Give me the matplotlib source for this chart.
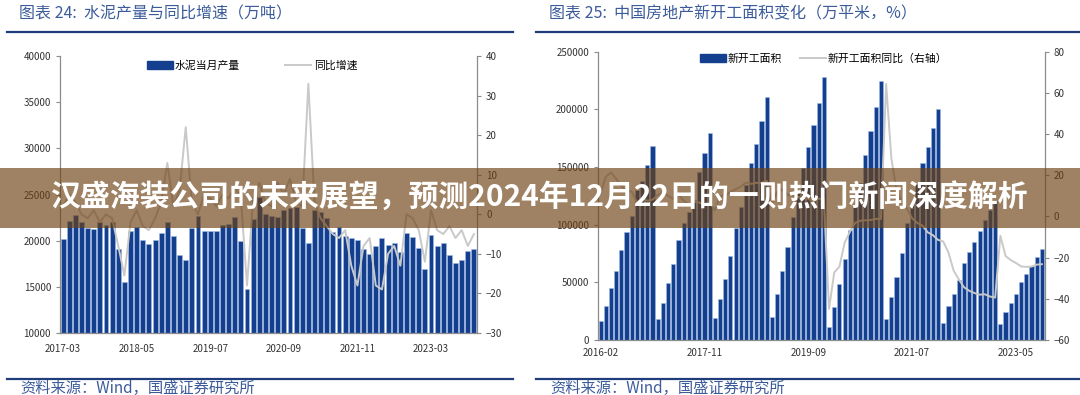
import matplotlib
matplotlib.use("Agg")
import matplotlib.pyplot as plt
from matplotlib.patches import Rectangle, Patch
from matplotlib.lines import Line2D
import numpy as np

plt.rcParams['font.family'] = ['Noto Sans CJK SC', 'DejaVu Sans']

# ---- left chart: cement output (Mar 2017 - Oct 2023, no Jan/Feb) ----
cement_ticks = ['2017-03', '2018-05', '2019-07', '2020-09', '2021-11', '2023-03']
cement_output = [20170, 22120, 22770, 22050, 21330, 21250, 22050, 21690, 22050, 19150,
	15470, 21070, 21500, 20060, 19620, 20060, 20780, 22050, 20490, 18430,
	17960, 21390, 22660, 21030, 21030, 21030, 21690, 21800, 22520, 19950,
	14740, 22300, 24760, 22880, 22660, 22590, 23310, 23500, 23670, 21330,
	19700, 23310, 23130, 22410, 20960, 21500, 20490, 20240, 20060, 19150,
	18610, 19410, 20310, 19520, 19700, 18790, 20850, 20420, 19220, 16880,
	20600, 19410, 19700, 18500, 17600, 17890, 18900, 19150]
cement_yoy = [2, 5, 3, 0, -1, 1, -2, 0, -1, -8,
	-15.5, -2, 1, -3, -4, -1, 3, 13, 2, 6,
	22, 3, 0, 5, 4, 2, 5, 4, 7, 4,
	-18, 4, 8, 3, 2, 8, 5, 9, 3, 2,
	33, 3, -1, -3, -5, -6, -4, -13, -18, -8,
	-6, -18, -19, -10, -8, -13, 0, -1, -4, -12,
	1, -4, -5, -3, -6, -4, -8, -5]

# ---- right chart: new construction starts (Feb 2016 - Oct 2023, no Jan) ----
starts_ticks = ['2016-02', '2017-11', '2019-09', '2021-07', '2023-05']
starts_area = [16750, 29460, 44780, 60080, 78000, 93890, 107460, 130000, 138080, 151650, 168120,
	17910, 32350, 49110, 65860, 86660, 101100, 111210, 121320, 145870, 162340, 179670,
	18780, 35240, 52570, 72790, 96770, 115540, 134320, 153100, 169570, 189790, 210310,
	19640, 39580, 59800, 80310, 106310, 127100, 148770, 166970, 186300, 205700, 228200,
	11560, 28890, 48530, 70190, 95330, 116000, 136000, 160000, 181100, 201600, 224750,
	17900, 36970, 54890, 75110, 101680, 118000, 135000, 153100, 166970, 183420, 199900,
	15020, 29600, 39700, 52000, 66400, 76000, 85000, 94800, 104000, 113000, 120600,
	13600, 24100, 31900, 40000, 49900, 56900, 63900, 72100, 79200]
starts_yoy = [11.3, 19.2, 21.4, 18.2, 14.9, 12.2, 12.1, 6.7, 8.7, 7.6, 8.1,
	10.4, 11.6, 10.0, 8.5, 10.6, 7.6, 5.8, 7.2, 6.7, 5.6, 7.0,
	2.9, 9.7, 10.3, 11.8, 13.2, 14.4, 16.4, 15.8, 16.3, 16.3, 17.2,
	6.0, 11.9, 13.1, 10.5, 10.1, 9.5, 8.9, 8.6, 7.1, 8.6, 8.5,
	-44.9, -27.2, -24.4, -12.8, -7.6, -3.2, -2.1, -1.9, -1.8, -1.2, -1.2,
	64.3, 28.2, 12.8, 6.9, 3.8, -0.9, -3.2, -4.5, -7.7, -9.1, -11.4,
	-12.2, -17.5, -26.3, -30.6, -34.4, -36.1, -37.2, -38.0, -37.8, -38.9, -39.4,
	-9.4, -19.2, -21.2, -22.6, -24.3, -24.5, -24.4, -23.4, -23.2]

bar_blue = '#133f8e'
bar_edge = '#9fbbe6'
line_gray = '#c9c9c9'
axis_gray = '#8c8c8c'
title_blue = '#3b5b9a'
rule_blue = '#1f3d7a'
tick_size = 7


def style_axes(ax, ax2, xpad):
	for a in (ax, ax2):
		a.spines['top'].set_visible(False)
		for s in ('left', 'right', 'bottom'):
			a.spines[s].set_color(axis_gray)
			a.spines[s].set_linewidth(0.9)
	ax.spines['right'].set_visible(False)
	ax2.spines['left'].set_visible(False)
	ax2.spines['bottom'].set_visible(False)
	ax.tick_params(axis='y', direction='out', length=3, color=axis_gray, labelsize=tick_size, labelcolor='#333333')
	ax2.tick_params(axis='y', direction='out', length=3, color=axis_gray, labelsize=tick_size, labelcolor='#333333')
	ax.tick_params(axis='x', length=0, labelsize=tick_size, labelcolor='#333333', pad=xpad)


def draw_panel(rect, values, yoy, ticks, tick_step, ylim, yticks, y2lim, y2ticks, names, legend_pos, colspace, xpad):
	ax = fig.add_axes(rect)
	x = np.arange(len(values))
	ax.bar(x, values, width=0.8, color=bar_blue, edgecolor=bar_edge, linewidth=0.4, zorder=2)
	ax.set_xlim(-0.5, len(values) - 0.5)
	ax.set_ylim(*ylim)
	ax.set_yticks(yticks)
	ax.set_xticks(np.arange(len(ticks)) * tick_step)
	ax.set_xticklabels(ticks)
	ax2 = ax.twinx()
	ax2.plot(x, yoy, color=line_gray, lw=1.4, zorder=3)
	ax2.set_ylim(*y2lim)
	ax2.set_yticks(y2ticks)
	style_axes(ax, ax2, xpad)
	handles = [Patch(facecolor=bar_blue, edgecolor=bar_blue), Line2D([], [], color=line_gray, lw=1.4)]
	ax2.legend(handles, names, loc='center', bbox_to_anchor=legend_pos, ncol=2, frameon=False,
		fontsize=7.8, handlelength=2.4, handleheight=0.75, columnspacing=colspace, handletextpad=0.2)
	return ax, ax2


fig = plt.figure(figsize=(10.8, 3.95), dpi=100)
W, H = 1080, 395

draw_panel([60 / W, 1 - 333 / H, 417 / W, 277 / H], cement_output, cement_yoy, cement_ticks, 12,
	(10000, 40000), np.arange(10000, 40001, 5000), (-30, 40), np.arange(-30, 41, 10),
	['水泥当月产量', '同比增速'], (0.46, 0.965), 4.2, 8)
draw_panel([598 / W, 1 - 340 / H, 446.5 / W, 288.4 / H], starts_area, starts_yoy, starts_ticks, 20,
	(0, 250000), np.arange(0, 250001, 50000), (-60, 80), np.arange(-60, 81, 20),
	['新开工面积', '新开工面积同比（右轴）'], (0.505, 0.975), 1.6, 6)

# titles, rules and source notes
fig.text(19 / W, 1 - 14 / H, '图表 24:  水泥产量与同比增速（万吨）', fontsize=11.5, color=title_blue, va='center', style='italic')
fig.text(549 / W, 1 - 14 / H, '图表 25:  中国房地产新开工面积变化（万平米，%）', fontsize=11.5, color=title_blue, va='center', style='italic')
for x0, x1 in ((7, 513), (536, 1080)):
	fig.add_artist(Line2D([x0 / W, x1 / W], [1 - 31.5 / H] * 2, color=rule_blue, lw=1.6))
	fig.add_artist(Line2D([x0 / W, x1 / W], [1 - 378.5 / H] * 2, color=rule_blue, lw=1.6))
fig.text(20 / W, 1 - 388 / H, '资料来源：Wind，国盛证券研究所', fontsize=11, color=title_blue, va='center', style='italic')
fig.text(550 / W, 1 - 388 / H, '资料来源：Wind，国盛证券研究所', fontsize=11, color=title_blue, va='center', style='italic')

# headline banner over both charts
fig.patches.append(Rectangle((0, 1 - 228 / H), 1, 60 / H, transform=fig.transFigure,
	facecolor=(109 / 255, 65 / 255, 18 / 255), alpha=0.66, edgecolor='none', zorder=4))
fig.text(0.5, 1 - 197 / H, '汉盛海装公司的未来展望，预测2024年12月22日的一则热门新闻深度解析',
	fontsize=21.5, fontweight='bold', color='white', ha='center', va='center', zorder=5)

fig.savefig('out.png', dpi=100)
